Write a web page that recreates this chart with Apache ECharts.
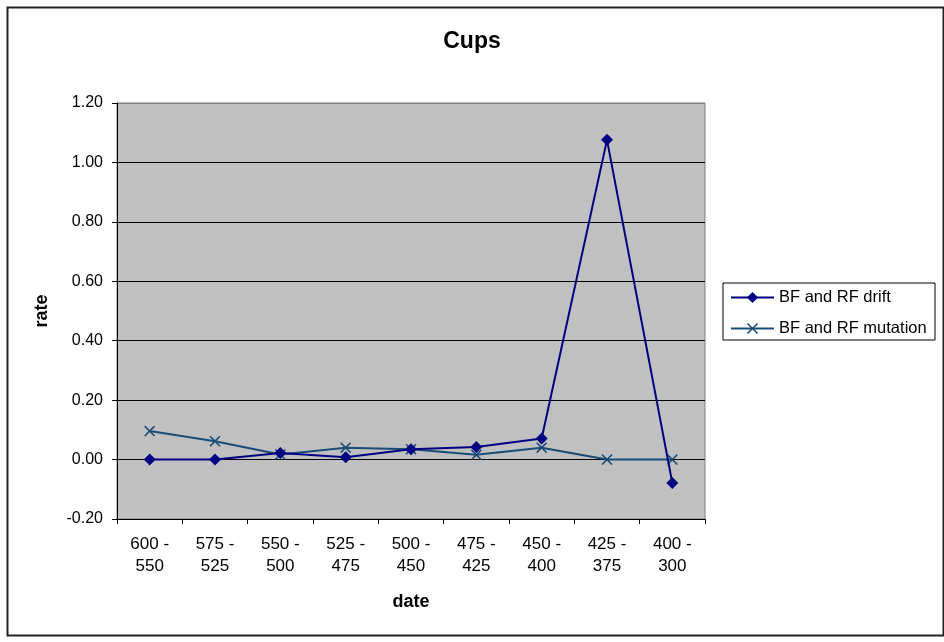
<!DOCTYPE html>
<html>
<head>
<meta charset="utf-8">
<script src="https://cdn.jsdelivr.net/npm/echarts@6/dist/echarts.min.js"></script>
<style>
html,body{margin:0;padding:0;background:#fff;}
#chart{width:944px;height:642px;}
</style>
</head>
<body>
<div id="chart"></div>
<script>
var categories = ['600 -\n550', '575 -\n525', '550 -\n500', '525 -\n475', '500 -\n450', '475 -\n425', '450 -\n400', '425 -\n375', '400 -\n300'];
var driftValues = [0, 0, 0.022, 0.008, 0.035, 0.042, 0.071, 1.076, -0.079];
var mutationValues = [0.096, 0.062, 0.017, 0.040, 0.035, 0.016, 0.040, 0, 0];
var seriesNames = ['BF and RF drift', 'BF and RF mutation'];

var FONT = "'Liberation Sans', Arial, sans-serif";
var crossPath = 'path://M0,1L1,0L5,4L9,0L10,1L6,5L10,9L9,10L5,6L1,10L0,9L4,5Z';

var chart = echarts.init(document.getElementById('chart'));
chart.setOption({
  backgroundColor: '#ffffff',
  animation: false,
  title: {
    text: 'Cups',
    left: 'center',
    top: 25,
    textStyle: { fontFamily: FONT, fontSize: 23, fontWeight: 'bold', color: '#000' }
  },
  graphic: [
    { type: 'rect', left: 5, top: 5, shape: { width: 936, height: 628 }, style: { fill: 'none', stroke: '#222', lineWidth: 2 }, z: -1 },
    { type: 'rect', left: 722.5, top: 282.5, shape: { width: 212, height: 57 }, style: { fill: '#fff', stroke: '#000', lineWidth: 1 }, z: 1 }
  ],
  legend: {
    orient: 'vertical',
    left: 730,
    top: 289,
    padding: 0,
    itemWidth: 43,
    itemHeight: 14,
    itemGap: 14,
    z: 5,
    textStyle: { fontFamily: FONT, fontSize: 16.5, color: '#000' },
    data: seriesNames
  },
  grid: {
    left: 117,
    right: 239,
    top: 103,
    bottom: 123,
    show: true,
    backgroundColor: '#C0C0C0',
    borderColor: '#808080',
    borderWidth: 1
  },
  xAxis: {
    type: 'category',
    data: categories,
    boundaryGap: true,
    name: 'date',
    nameLocation: 'middle',
    nameGap: 74,
    nameTextStyle: { fontFamily: FONT, fontSize: 18, fontWeight: 'bold', color: '#000' },
    axisLine: { onZero: false, lineStyle: { color: '#000', width: 1 } },
    axisTick: { show: true, inside: false, length: 5, alignWithLabel: false, lineStyle: { color: '#000' } },
    axisLabel: { fontFamily: FONT, fontSize: 17, color: '#000', lineHeight: 22, margin: 14, interval: 0 },
    splitLine: { show: false }
  },
  yAxis: {
    type: 'value',
    min: -0.2,
    max: 1.2,
    interval: 0.2,
    name: 'rate',
    nameLocation: 'middle',
    nameGap: 66,
    nameRotate: 90,
    nameTextStyle: { fontFamily: FONT, fontSize: 18, fontWeight: 'bold', color: '#000' },
    axisLine: { show: true, lineStyle: { color: '#000', width: 1 } },
    axisTick: { show: true, inside: false, length: 5, lineStyle: { color: '#000' } },
    axisLabel: {
      fontFamily: FONT, fontSize: 16, color: '#000', margin: 14,
      formatter: function (v) { return v.toFixed(2); }
    },
    splitLine: { show: true, lineStyle: { color: ['#000', '#000', '#000', '#000', '#000', '#000', '#000', '#808080'], width: 1 } }
  },
  series: [
    {
      name: seriesNames[0],
      type: 'line',
      data: driftValues,
      symbol: 'diamond',
      symbolSize: 12,
      lineStyle: { color: '#000080', width: 2 },
      itemStyle: { color: '#000080' },
      z: 3
    },
    {
      name: seriesNames[1],
      type: 'line',
      data: mutationValues,
      symbol: crossPath,
      symbolSize: 11,
      lineStyle: { color: '#1A4C78', width: 2 },
      itemStyle: { color: '#1A4C78' },
      z: 2
    }
  ]
});
</script>
</body>
</html>
